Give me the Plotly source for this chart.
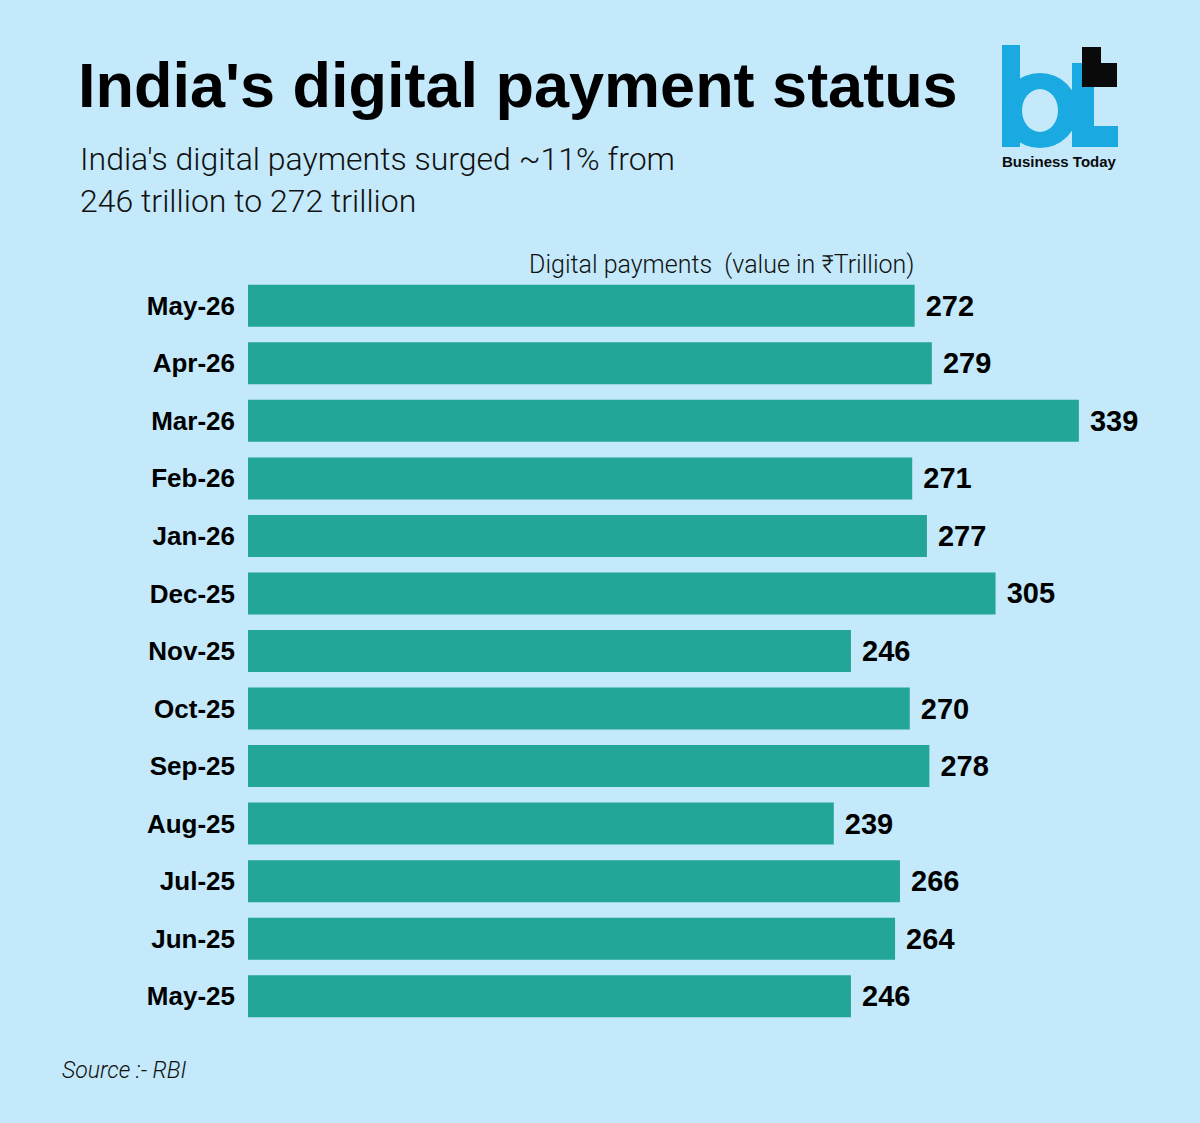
import plotly.graph_objects as go

# Data
months = ["May-25", "Jun-25", "Jul-25", "Aug-25", "Sep-25", "Oct-25", "Nov-25",
          "Dec-25", "Jan-26", "Feb-26", "Mar-26", "Apr-26", "May-26"]
payments = [246, 264, 266, 239, 278, 270, 246, 305, 277, 271, 339, 279, 272]

# Canvas / plot area in pixels
W, H = 1200, 1123
ML, MR, MT, MB = 248, 40, 277, 98
PW, PH = W - ML - MR, H - MT - MB

BG = "#c3e9fb"
BAR = "#23a598"
BLUE = "#1aa9e1"
INK = "#0a0a0a"


def px(x):
    return (x - ML) / PW


def py(y):
    return (H - MB - y) / PH


def box(x0, y0, x1, y1, color):
    # rectangle given in page pixels
    fig.add_shape(type="rect", xref="paper", yref="paper",
                  x0=px(x0), x1=px(x1), y0=py(y1), y1=py(y0),
                  fillcolor=color, line_width=0, layer="above")


def disc(x0, y0, x1, y1, color):
    fig.add_shape(type="circle", xref="paper", yref="paper",
                  x0=px(x0), x1=px(x1), y0=py(y1), y1=py(y0),
                  fillcolor=color, line_width=0, layer="above")


fig = go.Figure()
fig.add_trace(go.Bar(
    x=payments,
    y=months,
    orientation="h",
    marker=dict(color=BAR, line=dict(width=0)),
    texttemplate="\u00a0%{x}",
    textposition="outside",
    textfont=dict(family="Liberation Sans, Arial", size=29, color="#000000", weight="bold"),
    cliponaxis=False,
    hoverinfo="skip",
))

fig.update_layout(
    width=W, height=H,
    margin=dict(l=ML, r=MR, t=MT, b=MB),
    paper_bgcolor=BG, plot_bgcolor=BG,
    bargap=0.27,
    showlegend=False,
    xaxis=dict(range=[0, PW / 2.451], visible=False, fixedrange=True),
    yaxis=dict(
        categoryorder="array", categoryarray=months,
        showgrid=False, zeroline=False, showline=False, ticks="",
        ticklabelstandoff=12, fixedrange=True,
        tickfont=dict(family="Liberation Sans, Arial", size=26, color="#000000", weight="bold"),
    ),
)

# Title and subtitle
fig.add_annotation(
    text="India's digital payment status", xref="paper", yref="paper",
    x=px(76), y=py(85), xanchor="left", yanchor="middle", showarrow=False,
    font=dict(family="Liberation Sans, Arial", size=63, color="#000000", weight="bold"),
)
fig.add_annotation(
    text="India's digital payments surged ~11% from<br>246 trillion to 272 trillion",
    xref="paper", yref="paper", x=px(78), y=py(180), xanchor="left", yanchor="middle",
    align="left", showarrow=False,
    font=dict(family="Roboto, Liberation Sans", size=32, color="#111111", weight=300),
)

# Axis caption
fig.add_annotation(
    text="Digital payments  (value in ₹Trillion)", xref="paper", yref="paper",
    x=px(916), y=py(264), xanchor="right", yanchor="middle", showarrow=False,
    font=dict(family="Roboto, Liberation Sans", size=25, color="#111111", weight=300),
)

# Source
fig.add_annotation(
    text="Source :- RBI", xref="paper", yref="paper",
    x=px(60), y=py(1070), xanchor="left", yanchor="middle", showarrow=False,
    font=dict(family="Roboto, Liberation Sans", size=23, color="#111111",
              weight=300, style="italic"),
)

# Business Today logo
box(1002, 45, 1020, 147, BLUE)
disc(1002, 73, 1078, 148, BLUE)
disc(1022, 89, 1058, 132, BG)
box(1072, 63, 1094, 147, BLUE)
box(1094, 126, 1118, 147, BLUE)
box(1082, 63, 1117, 87, INK)
box(1082, 47, 1101, 67, INK)
fig.add_annotation(
    text="Business Today", xref="paper", yref="paper",
    x=px(1059), y=py(161), xanchor="center", yanchor="middle", showarrow=False,
    font=dict(family="Liberation Sans, Arial", size=15, color=INK, weight="bold"),
)

fig.write_html("out.html", config={"displayModeBar": False},
               post_script="document.body.style.margin='0';")
